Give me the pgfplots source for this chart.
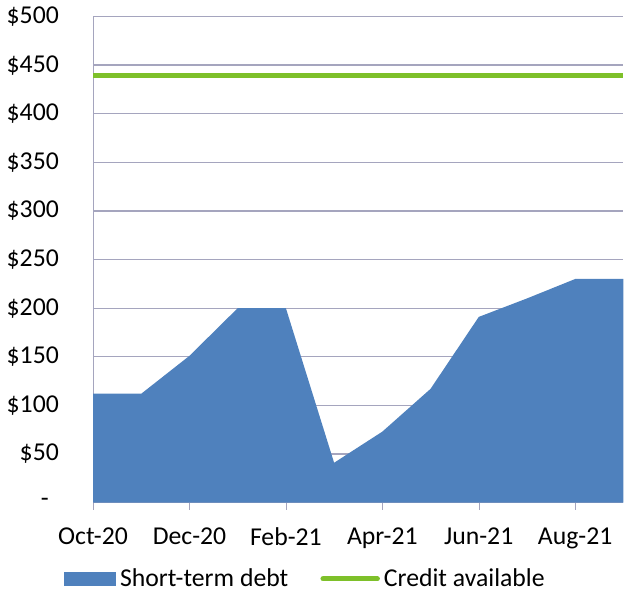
\documentclass[border=0pt]{standalone}
\usepackage{pgfplots}
\pgfplotsset{compat=1.18}
\usepackage{fontspec}
\setmainfont{Carlito}
\definecolor{debtblue}{RGB}{79,129,189}
\definecolor{creditgreen}{RGB}{126,192,42}
\definecolor{gridc}{RGB}{165,165,190}
\begin{document}
\begin{tikzpicture}
\begin{axis}[
    scale only axis,
    width=264pt,
    height=242pt,
    xmin=0, xmax=11,
    ymin=0, ymax=500,
    axis x line=bottom,
    axis y line=left,
    axis line style={gridc, -},
    xtick={0,2,4,6,8,10},
    xticklabels={Oct-20, Dec-20, Feb-21, Apr-21, Jun-21, Aug-21},
    ytick={0,50,...,500},
    yticklabels={-\kern5pt, \$50, \$100, \$150, \$200, \$250, \$300, \$350, \$400, \$450, \$500},
    ymajorgrids=true,
    grid style={gridc, line width=0.6pt},
    tick style={gridc},
    tick align=center,
    major tick length=7pt,
    ytick style={draw=none},
    tick label style={font=\fontsize{12.8}{15}\selectfont},
    xticklabel style={yshift=-5.5pt},
    yticklabel style={xshift=-10pt},
    legend style={at={(0.402,-0.118)}, anchor=north, draw=none, legend columns=2,
        font=\fontsize{12.8}{15}\selectfont, /tikz/every even column/.append style={column sep=14pt}},
    legend cell align=left,
    clip=false,
]
\addplot[fill=debtblue, draw=none,
    legend image code/.code={\fill[debtblue] (0pt,-3.5pt) rectangle (26pt,3.5pt);}] coordinates {
    (0,112) (1,112) (2,151) (3,200) (4,200) (5,41) (6,73) (7,117) (8,191) (9,210) (10,230) (11,230)
} \closedcycle;
\addlegendentry{Short-term debt}
\addplot[creditgreen, line width=2.6pt,
    legend image code/.code={\draw[creditgreen, line width=2.6pt, line cap=round] (0pt,0pt) -- (27pt,0pt);}] coordinates {
    (0,439) (11,439)
};
\addlegendentry{Credit available}
\end{axis}
\end{tikzpicture}
\end{document}
